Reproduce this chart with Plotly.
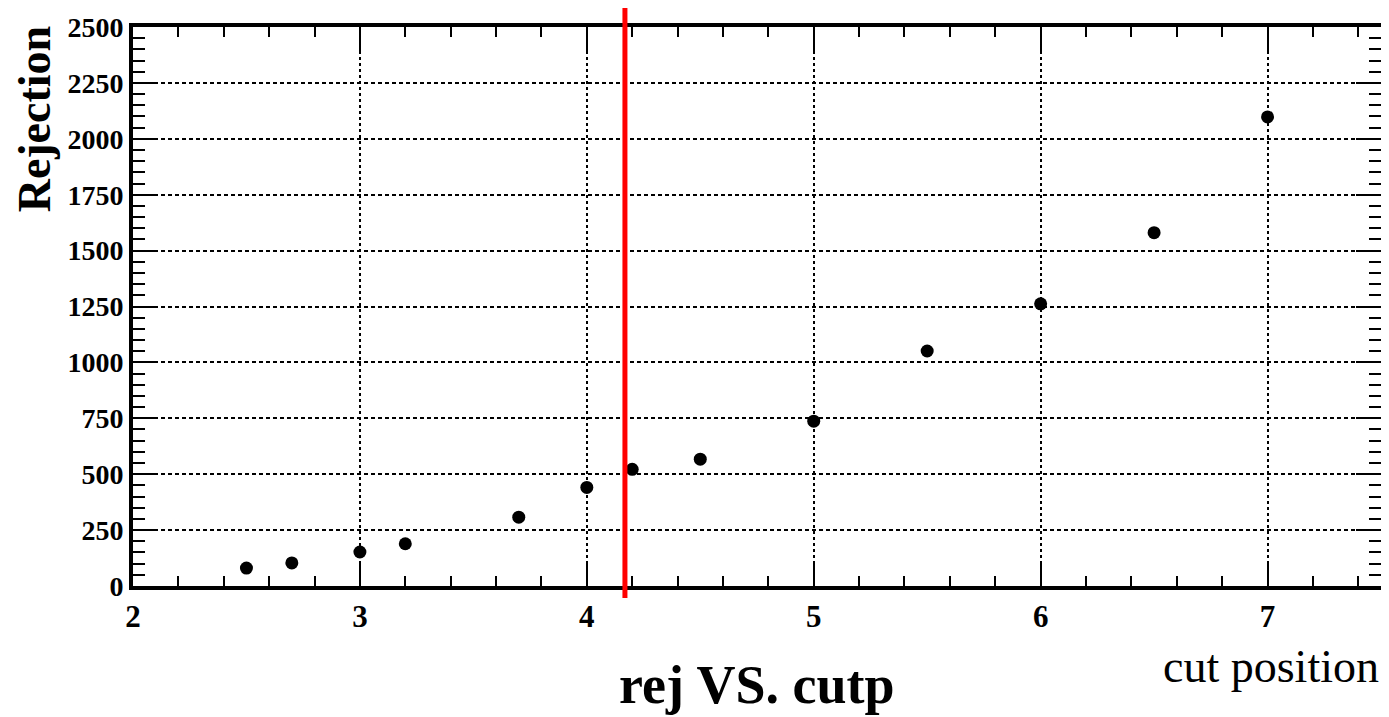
import plotly.graph_objects as go

# data
cut_position = [2.5, 2.7, 3.0, 3.2, 3.7, 4.0, 4.2, 4.5, 5.0, 5.5, 6.0, 6.5, 7.0]
rejection = [80, 103, 152, 189, 308, 441, 522, 567, 737, 1051, 1262, 1580, 2098]
cut_line_x = 4.168
x_ticks = [2, 3, 4, 5, 6, 7]
y_ticks = [0, 250, 500, 750, 1000, 1250, 1500, 1750, 2000, 2250, 2500]

# page has an 8px body margin; compensate so the plot lands where the reference has it
OFF = 8
W, H = 1389 - OFF, 717 - OFF
L, R, T, B = 133 - OFF, 4, 23 - OFF, 131
pw = W - L - R
ph = H - T - B


def px(xp):  # page pixel -> paper x
    return (xp - OFF - L) / pw


def py(yp):  # page pixel -> paper y
    return (H - B - (yp - OFF)) / ph


fig = go.Figure()
fig.add_trace(go.Scatter(
    x=cut_position, y=rejection, mode="markers",
    marker=dict(symbol="circle", size=13, color="black"),
    showlegend=False,
))

fig.add_shape(type="line", xref="x", yref="paper",
              x0=cut_line_x, x1=cut_line_x, y0=py(598), y1=py(0),
              line=dict(color="#ff0000", width=5))

tickfont = dict(family="Liberation Serif", size=28, color="black", weight="bold")
axis_common = dict(
    showline=True, linewidth=4, linecolor="black", mirror="ticks",
    ticks="inside", tickwidth=2, tickcolor="black",
    showgrid=True, gridcolor="black", gridwidth=1.5,
    zeroline=False, tickfont=tickfont, ticklabeloverflow="allow",
)

fig.update_xaxes(
    range=[2, 7.5], tickvals=x_ticks, ticktext=[str(v) for v in x_ticks],
    ticklen=25, ticklabelstandoff=0, griddash="3px,3px",
    minor=dict(dtick=0.2, tick0=2, ticks="inside", ticklen=10, tickwidth=2,
               tickcolor="black", showgrid=False),
    **axis_common,
)
fig.update_yaxes(
    range=[0, 2500], tickvals=y_ticks, ticktext=[str(v) for v in y_ticks],
    ticklen=25, griddash="4px,3px",
    minor=dict(dtick=50, tick0=0, ticks="inside", ticklen=12, tickwidth=2,
               tickcolor="black", showgrid=False),
    **axis_common,
)
fig.update_xaxes(tickfont=dict(family="Liberation Serif", size=31, color="black", weight="bold"))

fig.add_annotation(text="Rejection", xref="paper", yref="paper",
                   x=px(34), y=py(20), xanchor="center", yanchor="top",
                   textangle=-90, showarrow=False,
                   font=dict(family="Liberation Serif", size=46, color="black", weight="bold"))
fig.add_annotation(text="cut position", xref="paper", yref="paper",
                   x=px(1385), y=py(667), xanchor="right", yanchor="middle",
                   showarrow=False,
                   font=dict(family="Liberation Serif", size=46, color="black"))
fig.add_annotation(text="rej VS. cutp", xref="paper", yref="paper",
                   x=px(759), y=py(686), xanchor="center", yanchor="middle",
                   showarrow=False,
                   font=dict(family="Liberation Serif", size=54, color="black", weight="bold"))

fig.update_layout(
    width=W, height=H,
    margin=dict(l=L, r=R, t=T, b=B, pad=0),
    paper_bgcolor="white", plot_bgcolor="white",
    showlegend=False,
)

fig.write_html("out.html")
